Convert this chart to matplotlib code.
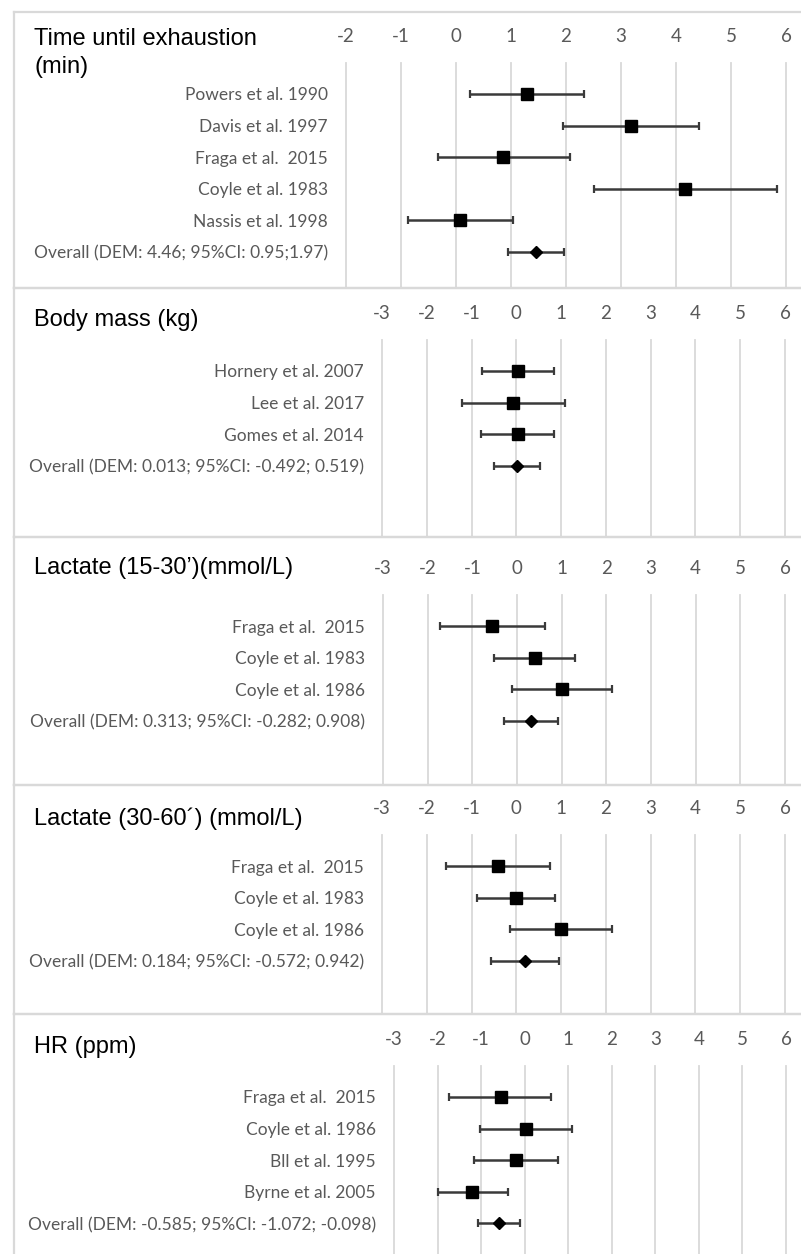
import matplotlib
matplotlib.use("Agg")
import matplotlib.pyplot as plt
from matplotlib.lines import Line2D

# ---- values per outcome (effect size, lower / upper 95% CI) ----
time_labels = ["Powers et al. 1990", "Davis et al. 1997", "Fraga et al.  2015",
               "Coyle et al. 1983", "Nassis et al. 1998",
               "Overall (DEM: 4.46; 95%CI: 0.95;1.97)"]
time_mean = [1.29, 3.18, 0.86, 4.17, 0.08, 1.46]
time_lo = [0.25, 1.95, -0.33, 2.50, -0.87, 0.95]
time_hi = [2.32, 4.42, 2.08, 5.83, 1.04, 1.97]

mass_labels = ["Hornery et al. 2007", "Lee et al. 2017", "Gomes et al. 2014",
               "Overall (DEM: 0.013; 95%CI: -0.492; 0.519)"]
mass_mean = [0.03, -0.07, 0.03, 0.013]
mass_lo = [-0.76, -1.21, -0.79, -0.492]
mass_hi = [0.84, 1.08, 0.84, 0.519]

lac1_labels = ["Fraga et al.  2015", "Coyle et al. 1983", "Coyle et al. 1986",
               "Overall (DEM: 0.313; 95%CI: -0.282; 0.908)"]
lac1_mean = [-0.56, 0.40, 1.00, 0.313]
lac1_lo = [-1.72, -0.51, -0.11, -0.282]
lac1_hi = [0.62, 1.30, 2.12, 0.908]

lac2_labels = ["Fraga et al.  2015", "Coyle et al. 1983", "Coyle et al. 1986",
               "Overall (DEM: 0.184; 95%CI: -0.572; 0.942)"]
lac2_mean = [-0.40, 0.00, 1.00, 0.184]
lac2_lo = [-1.56, -0.88, -0.14, -0.572]
lac2_hi = [0.76, 0.86, 2.13, 0.942]

hr_labels = ["Fraga et al.  2015", "Coyle et al. 1986", "Bll et al. 1995",
             "Byrne et al. 2005", "Overall (DEM: -0.585; 95%CI: -1.072; -0.098)"]
hr_mean = [-0.55, 0.02, -0.20, -1.20, -0.585]
hr_lo = [-1.73, -1.02, -1.16, -2.00, -1.072]
hr_hi = [0.61, 1.08, 0.77, -0.39, -0.098]

titles = ["Time until exhaustion\n(min)", "Body mass (kg)",
          "Lactate (15-30\u2019)(mmol/L)", "Lactate (30-60\u00b4) (mmol/L)",
          "HR (ppm)"]
x_min = [-2, -3, -3, -3, -3]
x_max = 6

# panel layout in pixels: box top, box bottom, grid top, left/right of x range,
# centre of first row, title centre
layout = [
    dict(top=12, bottom=288, grid=63, x0=346, x1=786, row0=94, ty=53),
    dict(top=288, bottom=537, grid=340, x0=382, x1=785, row0=371, ty=320),
    dict(top=537, bottom=785, grid=595, x0=383, x1=785, row0=626, ty=568),
    dict(top=785, bottom=1014, grid=835, x0=382, x1=785, row0=866, ty=819),
    dict(top=1014, bottom=1258, grid=1066, x0=394, x1=786, row0=1097, ty=1047),
]
ROW_PITCH = 31.6

GRAY_TXT = "#595959"
GRID = "#d9d9d9"
BAR = "#3a3a3a"

plt.rcParams["axes.unicode_minus"] = False
LABEL_FONT = ["Lato", "DejaVu Sans"]
TITLE_FONT = ["Liberation Sans", "DejaVu Sans"]

W, H = 801, 1254
fig = plt.figure(figsize=(W / 100, H / 100), dpi=100)


def fx(x):
    return x / W


def fy(y):
    return 1 - y / H


panels = [
    (time_labels, time_mean, time_lo, time_hi),
    (mass_labels, mass_mean, mass_lo, mass_hi),
    (lac1_labels, lac1_mean, lac1_lo, lac1_hi),
    (lac2_labels, lac2_mean, lac2_lo, lac2_hi),
    (hr_labels, hr_mean, hr_lo, hr_hi),
]

for (labels, mean, lo, hi), lay, xmin, title in zip(panels, layout, x_min, titles):
    # panel frame
    for y in (lay["top"], lay["bottom"]):
        fig.add_artist(Line2D([fx(14), fx(W + 5)], [fy(y), fy(y)],
                              transform=fig.transFigure, color=GRID, lw=1.6))
    fig.add_artist(Line2D([fx(14), fx(14)], [fy(lay["top"]), fy(lay["bottom"])],
                          transform=fig.transFigure, color=GRID, lw=1.6))
    fig.text(fx(34), fy(lay["ty"]), title, ha="left", va="center",
             fontsize=17, family=TITLE_FONT, color="black", linespacing=1.3)

    ax = fig.add_axes([fx(lay["x0"]), fy(lay["bottom"]),
                       fx(lay["x1"]) - fx(lay["x0"]),
                       (lay["bottom"] - lay["grid"]) / H])
    ax.set_facecolor("none")
    for s in ax.spines.values():
        s.set_visible(False)

    n = len(labels)
    rows = list(range(n))
    ax.set_xlim(xmin, x_max)
    ax.set_ylim((lay["bottom"] - lay["row0"]) / ROW_PITCH,
                (lay["grid"] - lay["row0"]) / ROW_PITCH)

    ticks = list(range(xmin, x_max + 1))
    for t in ticks:
        ax.axvline(t, color=GRID, lw=1.3, zorder=0, clip_on=False)
    ax.set_xticks(ticks)
    ax.xaxis.tick_top()
    ax.tick_params(axis="x", length=0, pad=13, labelsize=13.5, labelcolor=GRAY_TXT)
    ax.set_yticks(rows)
    ax.set_yticklabels(labels)
    ax.tick_params(axis="y", length=0, pad=13, labelsize=12.5, labelcolor=GRAY_TXT)
    for lbl in ax.get_xticklabels() + ax.get_yticklabels():
        lbl.set_family(LABEL_FONT)

    # individual studies
    m = mean[:-1]
    err = [[a - b for a, b in zip(m, lo[:-1])], [b - a for a, b in zip(m, hi[:-1])]]
    ax.errorbar(m, rows[:-1], xerr=err, fmt="s", color="black", ms=9,
                ecolor=BAR, elinewidth=1.8, capsize=3.2, capthick=1.6,
                clip_on=False, zorder=3)
    # pooled estimate
    ax.errorbar(mean[-1:], rows[-1:],
                xerr=[[mean[-1] - lo[-1]], [hi[-1] - mean[-1]]],
                fmt="D", color="black", ms=6.5, ecolor=BAR, elinewidth=1.8,
                capsize=3.2, capthick=1.6, clip_on=False, zorder=3)

fig.savefig("out.png", dpi=100)
plt.close(fig)
